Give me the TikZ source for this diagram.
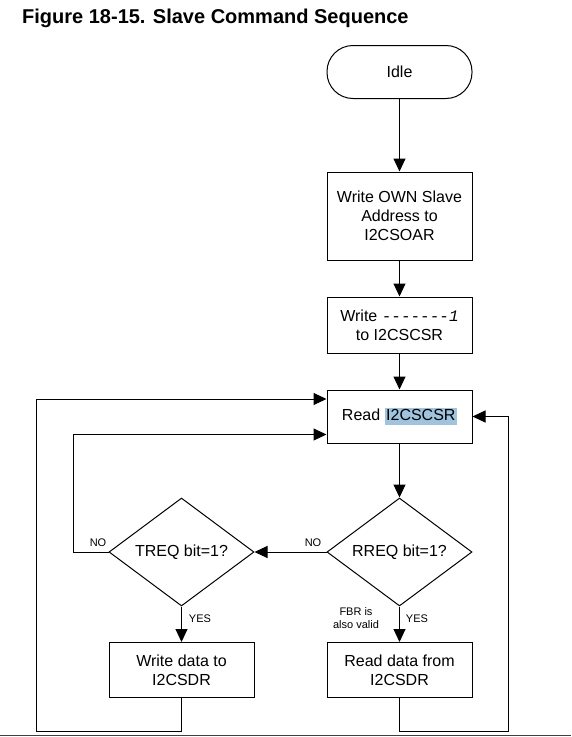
\documentclass[tikz,border=0pt]{standalone}
\usepackage{fontspec}
\setmainfont{Liberation Sans}
\setmonofont{Liberation Mono}
\usetikzlibrary{shapes.geometric,arrows.meta}
\definecolor{hl}{RGB}{160,196,222}
\begin{document}
\begin{tikzpicture}[x=1pt,y=-1pt,
  every node/.style={font=\fontsize{16}{19}\selectfont, inner sep=0pt},
  box/.style={draw, line width=1pt, minimum width=145pt, align=center},
  term/.style={draw, line width=1pt, minimum width=145pt, minimum height=53pt, rounded corners=26pt},
  dia/.style={draw, line width=1pt, diamond, minimum width=145pt, minimum height=108pt, aspect=1.34},
  arr/.style={line width=1pt, -{Triangle[length=13pt,width=12pt]}},
  lbl/.style={font=\fontsize{11}{13}\selectfont, align=center}]
\useasboundingbox (0,0) rectangle (571,737);
\node[anchor=base west, font=\fontsize{20}{24}\selectfont\bfseries] (title) at (22,23) {Figure 18-15. Slave Command Sequence};

\node[term] (idle) at (399.5,72) {Idle};
\node[box, minimum height=88pt] (own) at (399.5,216) {Write OWN Slave\\Address to\\I2CSOAR};
\node[box, minimum height=56pt] (csr) at (399.5,325) {Write \texttt{-------\textit{1}}\\to I2CSCSR};
\node[box, minimum height=53pt] (read) at (399.5,416.5) {Read {\setlength\fboxsep{1.5pt}\colorbox{hl}{\vphantom{Ig}I2CSCSR}}};
\node[dia] (rreq) at (399.5,552) {RREQ bit=1?};
\node[dia] (treq) at (181.5,552) {TREQ bit=1?};
\node[box, minimum height=55pt] (wdata) at (181.5,670) {Write data to\\I2CSDR};
\node[box, minimum height=55pt] (rdata) at (399.5,670) {Read data from\\I2CSDR};

\coordinate (lb) at (36,731);
\coordinate (rb) at (508,731);
\coordinate (ib) at (73,552);

\draw[arr] (idle) -- (own);
\draw[arr] (own) -- (csr);
\draw[arr] (csr) -- (read);
\draw[arr] (read) -- (rreq);
\draw[arr] (rreq.west) -- (treq.east);
\draw[arr] (treq.west) -- (ib) |- ([yshift=-18pt]read.west);
\draw[arr] (treq.south) -- (wdata.north);
\draw[arr] (rreq.south) -- (rdata.north);
\draw[arr] (wdata.south) |- (lb) |- ([yshift=17.5pt]read.west);
\draw[arr] (rdata.south) |- (rb) |- (read.east);

\node[lbl] (no1) at (313,543) {NO};
\node[lbl] (no2) at (98,543) {NO};
\node[lbl] (yes1) at (200,619) {YES};
\node[lbl] (yes2) at (417,619) {YES};
\node[lbl] (fbr) at (356,618) {FBR is\\also valid};

\draw[line width=1.5pt, black!75] (0,735.5) -- (571,735.5);
\end{tikzpicture}
\end{document}
